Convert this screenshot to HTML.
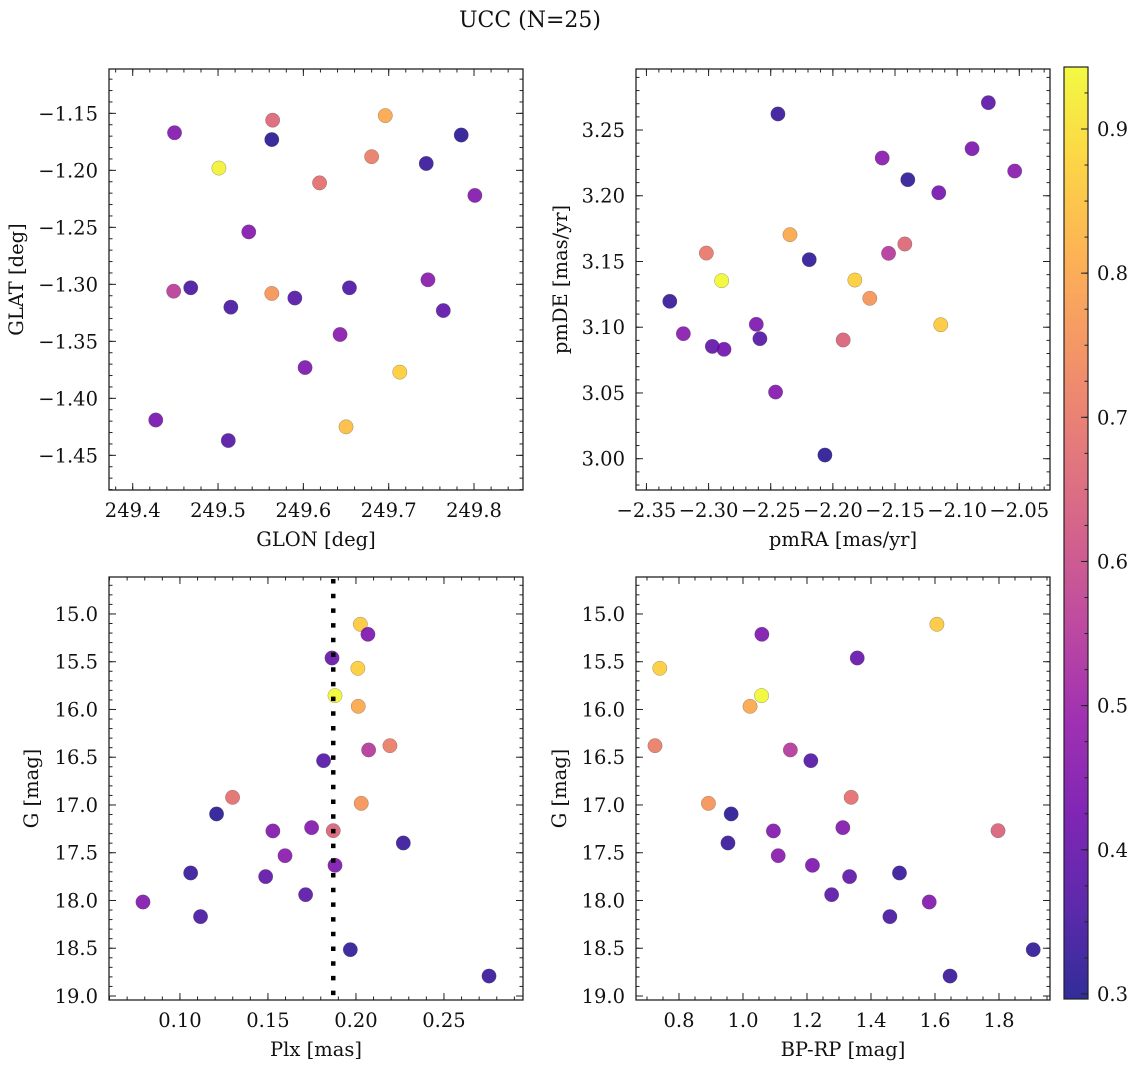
<!DOCTYPE html>
<html>
<head>
<meta charset="utf-8">
<style>
  html,body{margin:0;padding:0;background:#fff;}
  svg{display:block;font-family:"DejaVu Serif","Liberation Serif",serif;}
</style>
</head>
<body>
<svg id="fig" width="1136" height="1067" viewBox="0 0 1136 1067" xmlns="http://www.w3.org/2000/svg">
  <text x="530" y="27" text-anchor="middle" font-size="22" fill="#111">UCC (N=25)</text>
</svg>
<script>
// ---------- data ----------
const glon = [249.449,249.564,249.563,249.696,249.501,249.619,249.680,249.744,249.785,249.801,249.536,249.448,249.468,249.515,249.563,249.590,249.654,249.746,249.764,249.643,249.602,249.713,249.427,249.512,249.650];
const glat = [-1.167,-1.156,-1.173,-1.152,-1.198,-1.211,-1.188,-1.194,-1.169,-1.222,-1.254,-1.306,-1.303,-1.320,-1.308,-1.312,-1.303,-1.296,-1.323,-1.344,-1.373,-1.377,-1.419,-1.437,-1.425];
const probA = [0.45,0.66,0.31,0.80,0.93,0.68,0.71,0.33,0.31,0.45,0.45,0.56,0.35,0.35,0.76,0.37,0.36,0.46,0.39,0.46,0.44,0.87,0.43,0.37,0.84];

const pmra = [-2.2442,-2.0749,-2.1603,-2.0880,-2.0537,-2.1397,-2.1148,-2.2345,-2.3018,-2.2190,-2.1421,-2.1552,-2.2895,-2.1823,-2.3312,-2.1703,-2.1132,-2.2616,-2.3203,-2.2970,-2.2876,-2.2587,-2.1917,-2.2461,-2.2064];
const pmde = [3.2622,3.2708,3.2287,3.2358,3.2188,3.2122,3.2023,3.1704,3.1564,3.1514,3.1633,3.1562,3.1354,3.1359,3.1197,3.1220,3.1019,3.1022,3.0951,3.0854,3.0832,3.0913,3.0903,3.0507,3.0028];
const probB = [0.33,0.38,0.46,0.44,0.46,0.32,0.43,0.80,0.70,0.32,0.66,0.55,0.94,0.87,0.33,0.76,0.86,0.44,0.46,0.39,0.42,0.37,0.65,0.45,0.31];

const gmag = [15.108,15.213,15.461,15.569,15.855,15.967,16.379,16.424,16.536,16.920,16.983,17.094,17.272,17.237,17.269,17.398,17.531,17.632,17.712,17.750,17.939,18.016,18.169,18.515,18.791];
const plx = [0.2025,0.2068,0.1864,0.2011,0.1881,0.2013,0.2193,0.2072,0.1816,0.1299,0.2030,0.1208,0.1528,0.1748,0.1871,0.2269,0.1597,0.1881,0.1061,0.1487,0.1714,0.0790,0.1117,0.1968,0.2756];
const bprp = [1.606,1.059,1.357,0.740,1.058,1.022,0.725,1.148,1.212,1.338,0.892,0.963,1.095,1.312,1.797,0.953,1.110,1.217,1.489,1.333,1.277,1.582,1.459,1.907,1.647];
const probC = [0.86,0.44,0.40,0.87,0.94,0.80,0.71,0.55,0.37,0.68,0.76,0.31,0.45,0.45,0.65,0.33,0.46,0.44,0.33,0.39,0.38,0.45,0.35,0.32,0.33];

const plxLine = [0.1871];
const cbarTicks = [0.3,0.4,0.5,0.6,0.7,0.8,0.9];
const cmin = 0.2965, cmax = 0.943;

// ---------- helpers ----------
const NS = "http://www.w3.org/2000/svg";
const svg = document.getElementById('fig');
const FS = 19.5;
function mk(tag, attrs, parent){ const e=document.createElementNS(NS,tag); for(const k in attrs) e.setAttribute(k,attrs[k]); (parent||svg).appendChild(e); return e; }
const stops=[[0,[13,8,135]],[0.1,[65,4,157]],[0.2,[106,0,168]],[0.3,[143,13,164]],[0.4,[177,42,144]],[0.5,[204,71,120]],[0.6,[225,100,98]],[0.7,[242,132,75]],[0.8,[252,166,54]],[0.9,[252,206,37]],[1,[240,249,33]]];
function plasma(t){ t=Math.max(0,Math.min(1,t)); for(let i=1;i<stops.length;i++){ if(t<=stops[i][0]){ const a=stops[i-1],b=stops[i]; const f=(t-a[0])/(b[0]-a[0]); const c=a[1].map((v,j)=>Math.round(v+(b[1][j]-v)*f)); return `rgb(${c[0]},${c[1]},${c[2]})`; } } return 'rgb(240,249,33)'; }
function cval(p){ return plasma((p-cmin)/(cmax-cmin)); }
function fmt(v,d){ const s=Math.abs(v).toFixed(d); return (v< -1e-9?'\u2212':'')+s; }
function range(a,b,s){ const r=[]; const n=Math.round((b-a)/s); for(let i=0;i<=n;i++) r.push(a+i*s); return r; }

function panel(cfg){
  const g = mk('g',{});
  
  
  const {x0,x1,y0,y1}=cfg.box;
  const sx = v => x0 + (v-cfg.xd[0])/(cfg.xd[1]-cfg.xd[0])*(x1-x0);
  const sy = cfg.yinv ? (v => y0 + (v-cfg.yd[0])/(cfg.yd[1]-cfg.yd[0])*(y1-y0))
                      : (v => y1 - (v-cfg.yd[0])/(cfg.yd[1]-cfg.yd[0])*(y1-y0));
  const ticks = mk('g',{stroke:'#222','stroke-width':1},g);
  
  
  const inX = v => v>=Math.min(...cfg.xd)-1e-9 && v<=Math.max(...cfg.xd)+1e-9;
  const inY = v => v>=Math.min(...cfg.yd)-1e-9 && v<=Math.max(...cfg.yd)+1e-9;
  const xmin = Math.floor(cfg.xd[0]/cfg.xminor)*cfg.xminor;
  range(xmin, cfg.xd[1]+cfg.xminor, cfg.xminor).forEach(v=>{ if(!inX(v))return; const X=sx(v);
    mk('line',{x1:X,x2:X,y1:y1,y2:y1-3.5},ticks); mk('line',{x1:X,x2:X,y1:y0,y2:y0+3.5},ticks); });
  const ymin = Math.floor(Math.min(...cfg.yd)/cfg.yminor)*cfg.yminor;
  range(ymin, Math.max(...cfg.yd)+cfg.yminor, cfg.yminor).forEach(v=>{ if(!inY(v))return; const Y=sy(v);
    mk('line',{x1:x0,x2:x0+3.5,y1:Y,y2:Y},ticks); mk('line',{x1:x1,x2:x1-3.5,y1:Y,y2:Y},ticks); });
  cfg.xt.forEach(v=>{ const X=sx(v);
    mk('line',{x1:X,x2:X,y1:y1,y2:y1-7},ticks); mk('line',{x1:X,x2:X,y1:y0,y2:y0+7},ticks);
    const t=mk('text',{x:X,y:y1+27,'text-anchor':'middle','font-size':FS,fill:'#111'},g); t.textContent=fmt(v,cfg.xdec);
    
     });
  cfg.yt.forEach(v=>{ const Y=sy(v);
    mk('line',{x1:x0,x2:x0+7,y1:Y,y2:Y},ticks); mk('line',{x1:x1,x2:x1-7,y1:Y,y2:Y},ticks);
    const t=mk('text',{x:x0-11,y:Y+7,'text-anchor':'end','font-size':FS,fill:'#111'},g); t.textContent=fmt(v,cfg.ydec);
    
     });
  const xl=mk('text',{x:(x0+x1)/2,y:y1+56,'text-anchor':'middle','font-size':FS,fill:'#111'},g); xl.textContent=cfg.xlabel;
  
  
  const yx=cfg.ylx, yc=(y0+y1)/2;
  const yl=mk('text',{x:yx,y:yc,'text-anchor':'middle','font-size':FS,fill:'#111',transform:`rotate(-90 ${yx} ${yc})`},g); yl.textContent=cfg.ylabel;
  
  
  const pts=mk('g',{},g);
  
  
  cfg.xs.forEach((v,i)=>{ const c=mk('circle',{cx:sx(v),cy:sy(cfg.ys[i]),r:7.2,fill:cval(cfg.cs[i]),'fill-opacity':0.85,stroke:'#555','stroke-width':0.4,'stroke-opacity':0.7},pts);
    
     });
  if(cfg.vline){ cfg.vline.forEach(v=>{ const X=sx(v);
    const l=mk('line',{x1:X,x2:X,y1:y0+2,y2:y1,stroke:'#000','stroke-width':4.5,'stroke-dasharray':'4.5 10.2'},g);
    
     }); }
  const fr=mk('rect',{x:x0,y:y0,width:x1-x0,height:y1-y0,fill:'none',stroke:'#222','stroke-width':1.3},g);
  
  
}

panel({name:'glon-glat-panel',box:{x0:109,x1:523,y0:69,y1:490},xd:[249.3722,249.8574],yd:[-1.4804,-1.1111],
  xt:[249.4,249.5,249.6,249.7,249.8],yt:[-1.45,-1.40,-1.35,-1.30,-1.25,-1.20,-1.15],xminor:0.02,yminor:0.01,xdec:1,ydec:2,
  xlabel:'GLON [deg]',ylabel:'GLAT [deg]',ylx:23,xs:glon,ys:glat,cs:probA});
panel({name:'pm-panel',box:{x0:636,x1:1050,y0:69,y1:490},xd:[-2.3584,-2.0253],yd:[2.9762,3.2964],
  xt:[-2.35,-2.30,-2.25,-2.20,-2.15,-2.10,-2.05],yt:[3.00,3.05,3.10,3.15,3.20,3.25],xminor:0.01,yminor:0.01,xdec:2,ydec:2,
  xlabel:'pmRA [mas/yr]',ylabel:'pmDE [mas/yr]',ylx:567,xs:pmra,ys:pmde,cs:probB});
panel({name:'plx-g-panel',box:{x0:109,x1:523,y0:577,y1:1000},xd:[0.0597,0.2949],yd:[14.613,19.042],yinv:true,
  xt:[0.10,0.15,0.20,0.25],yt:[15.0,15.5,16.0,16.5,17.0,17.5,18.0,18.5,19.0],xminor:0.01,yminor:0.1,xdec:2,ydec:1,
  xlabel:'Plx [mas]',ylabel:'G [mag]',ylx:38,xs:plx,ys:gmag,cs:probC,vline:plxLine});
panel({name:'cmd-panel',box:{x0:636,x1:1050,y0:577,y1:1000},xd:[0.6656,1.9594],yd:[14.613,19.042],yinv:true,
  xt:[0.8,1.0,1.2,1.4,1.6,1.8],yt:[15.0,15.5,16.0,16.5,17.0,17.5,18.0,18.5,19.0],xminor:0.05,yminor:0.1,xdec:1,ydec:1,
  xlabel:'BP-RP [mag]',ylabel:'G [mag]',ylx:566,xs:bprp,ys:gmag,cs:probC});

// ---------- colorbar ----------
(function(){
  const cx0=1064,cx1=1088,cy0=67,cy1=999;
  const g=mk('g',{});
  
  
  const defs=mk('defs',{},g);
  const lg=mk('linearGradient',{id:'cbg',x1:0,y1:1,x2:0,y2:0},defs);
  for(let i=0;i<=20;i++){ const t=i/20; mk('stop',{offset:t,'stop-color':plasma(t),'stop-opacity':0.85},lg); }
  const r=mk('rect',{x:cx0,y:cy0,width:cx1-cx0,height:cy1-cy0,fill:'url(#cbg)',stroke:'#222','stroke-width':1.2},g);
  
  
  const sy=v=>cy1-(v-cmin)/(cmax-cmin)*(cy1-cy0);
  range(0.3,0.95,0.025).forEach(v=>{ if(v>cmax)return; const Y=sy(v); mk('line',{x1:cx1,x2:cx1-3.5,y1:Y,y2:Y,stroke:'#222','stroke-width':1},g); });
  cbarTicks.forEach(v=>{ const Y=sy(v);
    mk('line',{x1:cx1,x2:cx1-7,y1:Y,y2:Y,stroke:'#222','stroke-width':1},g);
    const t=mk('text',{x:cx1+9,y:Y+7,'font-size':FS,fill:'#111'},g); t.textContent=v.toFixed(1);
    
     });
})();
</script>
</body>
</html>
